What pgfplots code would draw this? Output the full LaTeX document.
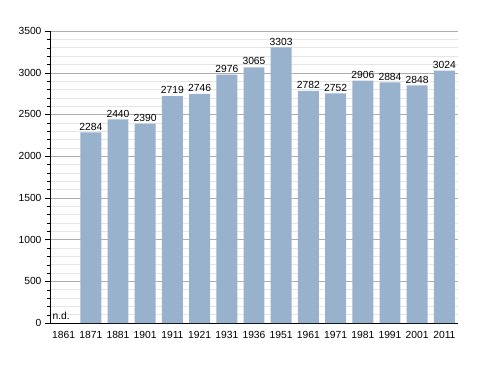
\documentclass[border=0pt]{standalone}
\usepackage{pgfplots}
\pgfplotsset{compat=1.18}
\usepackage{fontspec}
\setmainfont{Liberation Sans}
\definecolor{barblue}{RGB}{152,178,206}
\begin{document}
\begin{tikzpicture}
\path[use as bounding box] (-50pt,-50pt) rectangle (438pt,323pt);
\begin{axis}[
  scale only axis,
  width=408pt, height=292pt,
  xmin=-0.5, xmax=14.5,
  ymin=0, ymax=3500,
  ytick={0,500,...,3500},
  minor ytick={0,100,...,3500},
  xtick={0,...,14},
  xticklabels={1861,1871,1881,1901,1911,1921,1931,1936,1951,1961,1971,1981,1991,2001,2011},
  axis x line*=bottom, axis y line*=left,
  axis line style={-, black},
  ymajorgrids, yminorgrids,
  major grid style={draw=black!32},
  minor grid style={draw=black!10},
  tick align=outside,
  major tick length=5pt, minor tick length=3pt,
  x tick style={draw=none},
  y tick style={black},
  tick label style={font=\fontsize{10.3}{12}\selectfont},
  /pgf/number format/assume math mode=true,
  yticklabel style={/pgf/number format/1000 sep={}},
  ybar, bar width=0.77,
  nodes near coords,
  nodes near coords style={font=\fontsize{10.3}{12}\selectfont, black, /pgf/number format/1000 sep={}, inner sep=2pt},
  clip=false,
]
\addplot[fill=barblue, draw=none] coordinates {
(1,2284) (2,2440) (3,2390) (4,2719) (5,2746) (6,2976) (7,3065) (8,3303) (9,2782) (10,2752) (11,2906) (12,2884) (13,2848) (14,3024)
};
\node[anchor=south west, font=\fontsize{10.3}{12}\selectfont, inner sep=1pt] at (axis cs:-0.45,30) {n.d.};
\end{axis}
\end{tikzpicture}
\end{document}
